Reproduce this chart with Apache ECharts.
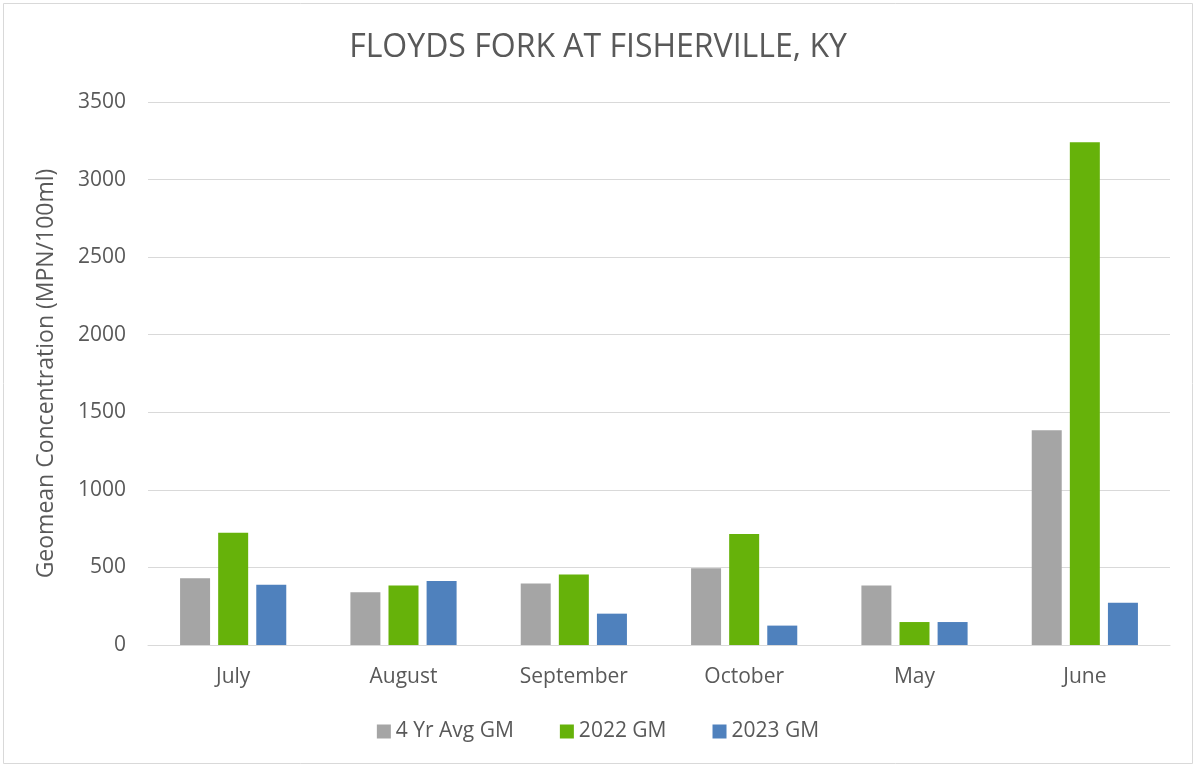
<!DOCTYPE html>
<html>
<head>
<meta charset="utf-8">
<title>Floyds Fork at Fisherville, KY</title>
<script src="https://cdn.jsdelivr.net/npm/echarts@6/dist/echarts.min.js"></script>
<style>
  html, body { margin: 0; padding: 0; background: #fff; }
  #chart { width: 1196px; height: 767px; }
</style>
</head>
<body>
<div id="chart"></div>
<script>
// months in the order of the original sheet
var months = ['July', 'August', 'September', 'October', 'May', 'June'];
var avg4yr = [430, 340, 397, 494, 383, 1385];
var gm2022 = [723, 383, 455, 716, 148, 3240];
var gm2023 = [389, 413, 202, 125, 148, 273];
var yTicks = { min: 0, max: 3500, interval: 500 };

var font = "'Open Sans', 'Noto Sans', sans-serif";
var textColor = '#595959';

var chart = echarts.init(document.getElementById('chart'));
chart.setOption({
  animation: false,
  textStyle: { fontFamily: font },
  title: {
    text: 'FLOYDS FORK AT FISHERVILLE, KY',
    left: 'center',
    top: 27,
    textStyle: { fontFamily: font, fontSize: 32, fontWeight: 'normal', color: textColor }
  },
  legend: {
    top: 716,
    left: 'center',
    itemWidth: 14,
    itemHeight: 14,
    itemGap: 46,
    icon: 'rect',
    textStyle: { fontFamily: font, fontSize: 21, color: textColor }
  },
  grid: { left: 148, right: 26, top: 102, bottom: 122 },
  xAxis: {
    type: 'category',
    data: months,
    axisLine: { lineStyle: { color: '#d9d9d9', width: 1 } },
    axisTick: { show: false },
    axisLabel: { fontFamily: font, fontSize: 21, color: textColor, margin: 22 }
  },
  yAxis: {
    type: 'value',
    min: yTicks.min,
    max: yTicks.max,
    interval: yTicks.interval,
    name: 'Geomean Concentration (MPN/100ml)',
    nameLocation: 'middle',
    nameGap: 90,
    nameTextStyle: { fontFamily: font, fontSize: 23, color: textColor },
    axisLine: { show: false },
    axisTick: { show: false },
    axisLabel: {
      fontFamily: font, fontSize: 21, color: textColor, margin: 22,
      formatter: function (v) { return String(v); }
    },
    splitLine: { lineStyle: { color: '#d9d9d9', width: 1 } }
  },
  series: [
    { name: '4 Yr Avg GM', type: 'bar', data: avg4yr, barWidth: 30, barGap: '27%',
      itemStyle: { color: '#a5a5a5' } },
    { name: '2022 GM', type: 'bar', data: gm2022, barWidth: 30, barGap: '27%',
      itemStyle: { color: '#66b20a' } },
    { name: '2023 GM', type: 'bar', data: gm2023, barWidth: 30, barGap: '27%',
      itemStyle: { color: '#4f81bd' } }
  ],
  graphic: [{
    type: 'rect',
    shape: { x: 3.5, y: 3.5, width: 1189, height: 760 },
    style: { fill: 'none', stroke: '#d9d9d9', lineWidth: 1 },
    silent: true
  }]
});
</script>
</body>
</html>
